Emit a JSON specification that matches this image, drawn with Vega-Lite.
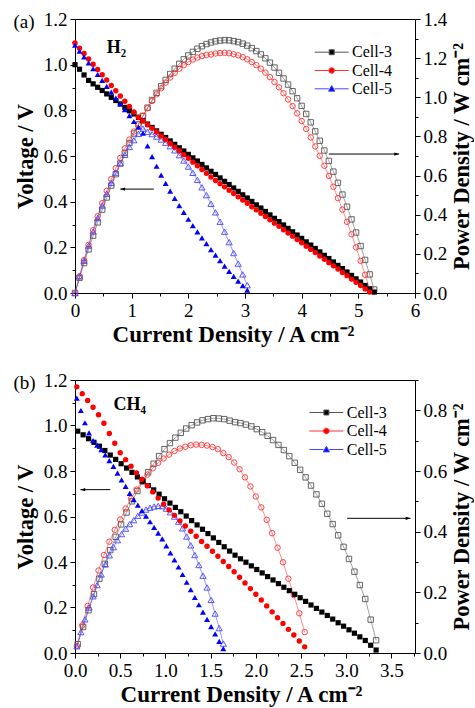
{
"$schema":"https://vega.github.io/schema/vega-lite/v6.json",
"background":"white",
"padding":{"left":12,"top":9,"right":0,"bottom":0},
"spacing":23,
"config":{
"font":"Liberation Serif",
"view":{"stroke":"#000","strokeWidth":1},
"axis":{"domainColor":"#000","tickColor":"#000","labelColor":"#000","titleColor":"#000","labelFont":"Liberation Serif","titleFont":"Liberation Serif","labelFontSize":19,"titleFontSize":22.5,"titleFontWeight":"bold","grid":false,"labelFlush":false,"labelOverlap":false,"tickSize":5,"labelPadding":3,"titlePadding":3,"domainWidth":1,"tickWidth":1}
},
"resolve":{"scale":{"fill":"independent","stroke":"independent","shape":"independent"},"legend":{"fill":"independent","stroke":"independent","shape":"independent"}},
"datasets":{
"a":[
{"c":"Cell-3","i":0,"v":1.0,"w":0},
{"c":"Cell-3","i":0.08,"v":0.98,"w":0.078},
{"c":"Cell-3","i":0.16,"v":0.955,"w":0.153},
{"c":"Cell-3","i":0.24,"v":0.931,"w":0.223},
{"c":"Cell-3","i":0.32,"v":0.916,"w":0.293},
{"c":"Cell-3","i":0.4,"v":0.901,"w":0.361},
{"c":"Cell-3","i":0.48,"v":0.887,"w":0.426},
{"c":"Cell-3","i":0.56,"v":0.872,"w":0.488},
{"c":"Cell-3","i":0.64,"v":0.857,"w":0.549},
{"c":"Cell-3","i":0.72,"v":0.843,"w":0.607},
{"c":"Cell-3","i":0.8,"v":0.828,"w":0.662},
{"c":"Cell-3","i":0.88,"v":0.813,"w":0.716},
{"c":"Cell-3","i":0.96,"v":0.798,"w":0.766},
{"c":"Cell-3","i":1.04,"v":0.784,"w":0.815},
{"c":"Cell-3","i":1.12,"v":0.769,"w":0.861},
{"c":"Cell-3","i":1.2,"v":0.754,"w":0.905},
{"c":"Cell-3","i":1.28,"v":0.74,"w":0.947},
{"c":"Cell-3","i":1.36,"v":0.725,"w":0.986},
{"c":"Cell-3","i":1.44,"v":0.71,"w":1.023},
{"c":"Cell-3","i":1.52,"v":0.695,"w":1.057},
{"c":"Cell-3","i":1.6,"v":0.681,"w":1.089},
{"c":"Cell-3","i":1.68,"v":0.666,"w":1.119},
{"c":"Cell-3","i":1.76,"v":0.651,"w":1.146},
{"c":"Cell-3","i":1.84,"v":0.636,"w":1.171},
{"c":"Cell-3","i":1.92,"v":0.622,"w":1.194},
{"c":"Cell-3","i":2.0,"v":0.607,"w":1.214},
{"c":"Cell-3","i":2.08,"v":0.592,"w":1.232},
{"c":"Cell-3","i":2.16,"v":0.578,"w":1.248},
{"c":"Cell-3","i":2.24,"v":0.563,"w":1.261},
{"c":"Cell-3","i":2.32,"v":0.548,"w":1.272},
{"c":"Cell-3","i":2.4,"v":0.533,"w":1.28},
{"c":"Cell-3","i":2.48,"v":0.519,"w":1.286},
{"c":"Cell-3","i":2.56,"v":0.504,"w":1.29},
{"c":"Cell-3","i":2.64,"v":0.489,"w":1.292},
{"c":"Cell-3","i":2.72,"v":0.475,"w":1.291},
{"c":"Cell-3","i":2.8,"v":0.46,"w":1.287},
{"c":"Cell-3","i":2.88,"v":0.445,"w":1.282},
{"c":"Cell-3","i":2.96,"v":0.43,"w":1.274},
{"c":"Cell-3","i":3.04,"v":0.416,"w":1.264},
{"c":"Cell-3","i":3.12,"v":0.401,"w":1.251},
{"c":"Cell-3","i":3.2,"v":0.386,"w":1.236},
{"c":"Cell-3","i":3.28,"v":0.372,"w":1.219},
{"c":"Cell-3","i":3.36,"v":0.357,"w":1.199},
{"c":"Cell-3","i":3.44,"v":0.342,"w":1.177},
{"c":"Cell-3","i":3.52,"v":0.327,"w":1.152},
{"c":"Cell-3","i":3.6,"v":0.313,"w":1.125},
{"c":"Cell-3","i":3.68,"v":0.298,"w":1.096},
{"c":"Cell-3","i":3.76,"v":0.283,"w":1.065},
{"c":"Cell-3","i":3.84,"v":0.268,"w":1.031},
{"c":"Cell-3","i":3.92,"v":0.254,"w":0.995},
{"c":"Cell-3","i":4.0,"v":0.239,"w":0.956},
{"c":"Cell-3","i":4.08,"v":0.224,"w":0.915},
{"c":"Cell-3","i":4.16,"v":0.21,"w":0.872},
{"c":"Cell-3","i":4.24,"v":0.195,"w":0.826},
{"c":"Cell-3","i":4.32,"v":0.18,"w":0.778},
{"c":"Cell-3","i":4.4,"v":0.165,"w":0.728},
{"c":"Cell-3","i":4.48,"v":0.151,"w":0.675},
{"c":"Cell-3","i":4.56,"v":0.136,"w":0.62},
{"c":"Cell-3","i":4.64,"v":0.121,"w":0.563},
{"c":"Cell-3","i":4.72,"v":0.107,"w":0.503},
{"c":"Cell-3","i":4.8,"v":0.092,"w":0.441},
{"c":"Cell-3","i":4.88,"v":0.077,"w":0.376},
{"c":"Cell-3","i":4.96,"v":0.062,"w":0.309},
{"c":"Cell-3","i":5.04,"v":0.048,"w":0.24},
{"c":"Cell-3","i":5.12,"v":0.033,"w":0.169},
{"c":"Cell-3","i":5.2,"v":0.018,"w":0.095},
{"c":"Cell-3","i":5.28,"v":0.004,"w":0.018},
{"c":"Cell-4","i":0,"v":1.095,"w":0},
{"c":"Cell-4","i":0.08,"v":1.072,"w":0.086},
{"c":"Cell-4","i":0.16,"v":1.049,"w":0.168},
{"c":"Cell-4","i":0.24,"v":1.025,"w":0.246},
{"c":"Cell-4","i":0.32,"v":1.002,"w":0.321},
{"c":"Cell-4","i":0.4,"v":0.979,"w":0.392},
{"c":"Cell-4","i":0.48,"v":0.956,"w":0.459},
{"c":"Cell-4","i":0.56,"v":0.933,"w":0.522},
{"c":"Cell-4","i":0.64,"v":0.909,"w":0.582},
{"c":"Cell-4","i":0.72,"v":0.886,"w":0.638},
{"c":"Cell-4","i":0.8,"v":0.863,"w":0.69},
{"c":"Cell-4","i":0.88,"v":0.84,"w":0.739},
{"c":"Cell-4","i":0.96,"v":0.817,"w":0.784},
{"c":"Cell-4","i":1.04,"v":0.793,"w":0.825},
{"c":"Cell-4","i":1.12,"v":0.77,"w":0.863},
{"c":"Cell-4","i":1.2,"v":0.754,"w":0.905},
{"c":"Cell-4","i":1.28,"v":0.737,"w":0.944},
{"c":"Cell-4","i":1.36,"v":0.721,"w":0.981},
{"c":"Cell-4","i":1.44,"v":0.705,"w":1.015},
{"c":"Cell-4","i":1.52,"v":0.688,"w":1.046},
{"c":"Cell-4","i":1.6,"v":0.672,"w":1.075},
{"c":"Cell-4","i":1.68,"v":0.655,"w":1.101},
{"c":"Cell-4","i":1.76,"v":0.639,"w":1.125},
{"c":"Cell-4","i":1.84,"v":0.623,"w":1.146},
{"c":"Cell-4","i":1.92,"v":0.606,"w":1.164},
{"c":"Cell-4","i":2.0,"v":0.59,"w":1.18},
{"c":"Cell-4","i":2.08,"v":0.573,"w":1.193},
{"c":"Cell-4","i":2.16,"v":0.557,"w":1.203},
{"c":"Cell-4","i":2.24,"v":0.541,"w":1.211},
{"c":"Cell-4","i":2.32,"v":0.524,"w":1.216},
{"c":"Cell-4","i":2.4,"v":0.508,"w":1.219},
{"c":"Cell-4","i":2.48,"v":0.493,"w":1.224},
{"c":"Cell-4","i":2.56,"v":0.479,"w":1.226},
{"c":"Cell-4","i":2.64,"v":0.465,"w":1.227},
{"c":"Cell-4","i":2.72,"v":0.45,"w":1.225},
{"c":"Cell-4","i":2.8,"v":0.436,"w":1.22},
{"c":"Cell-4","i":2.88,"v":0.421,"w":1.214},
{"c":"Cell-4","i":2.96,"v":0.407,"w":1.205},
{"c":"Cell-4","i":3.04,"v":0.393,"w":1.194},
{"c":"Cell-4","i":3.12,"v":0.378,"w":1.18},
{"c":"Cell-4","i":3.2,"v":0.364,"w":1.164},
{"c":"Cell-4","i":3.28,"v":0.349,"w":1.146},
{"c":"Cell-4","i":3.36,"v":0.335,"w":1.126},
{"c":"Cell-4","i":3.44,"v":0.321,"w":1.103},
{"c":"Cell-4","i":3.52,"v":0.306,"w":1.078},
{"c":"Cell-4","i":3.6,"v":0.292,"w":1.051},
{"c":"Cell-4","i":3.68,"v":0.277,"w":1.021},
{"c":"Cell-4","i":3.76,"v":0.263,"w":0.989},
{"c":"Cell-4","i":3.84,"v":0.249,"w":0.955},
{"c":"Cell-4","i":3.92,"v":0.234,"w":0.918},
{"c":"Cell-4","i":4.0,"v":0.22,"w":0.879},
{"c":"Cell-4","i":4.08,"v":0.205,"w":0.838},
{"c":"Cell-4","i":4.16,"v":0.191,"w":0.795},
{"c":"Cell-4","i":4.24,"v":0.177,"w":0.749},
{"c":"Cell-4","i":4.32,"v":0.162,"w":0.701},
{"c":"Cell-4","i":4.4,"v":0.148,"w":0.65},
{"c":"Cell-4","i":4.48,"v":0.133,"w":0.598},
{"c":"Cell-4","i":4.56,"v":0.119,"w":0.543},
{"c":"Cell-4","i":4.64,"v":0.105,"w":0.485},
{"c":"Cell-4","i":4.72,"v":0.09,"w":0.426},
{"c":"Cell-4","i":4.8,"v":0.076,"w":0.364},
{"c":"Cell-4","i":4.88,"v":0.061,"w":0.3},
{"c":"Cell-4","i":4.96,"v":0.047,"w":0.233},
{"c":"Cell-4","i":5.04,"v":0.033,"w":0.164},
{"c":"Cell-4","i":5.12,"v":0.018,"w":0.093},
{"c":"Cell-4","i":5.2,"v":0.004,"w":0.02},
{"c":"Cell-5","i":0,"v":1.085,"w":0},
{"c":"Cell-5","i":0.08,"v":1.059,"w":0.085},
{"c":"Cell-5","i":0.16,"v":1.034,"w":0.165},
{"c":"Cell-5","i":0.24,"v":1.008,"w":0.242},
{"c":"Cell-5","i":0.32,"v":0.982,"w":0.314},
{"c":"Cell-5","i":0.4,"v":0.957,"w":0.383},
{"c":"Cell-5","i":0.48,"v":0.931,"w":0.447},
{"c":"Cell-5","i":0.56,"v":0.905,"w":0.507},
{"c":"Cell-5","i":0.64,"v":0.88,"w":0.563},
{"c":"Cell-5","i":0.72,"v":0.854,"w":0.615},
{"c":"Cell-5","i":0.8,"v":0.828,"w":0.663},
{"c":"Cell-5","i":0.88,"v":0.803,"w":0.706},
{"c":"Cell-5","i":0.96,"v":0.777,"w":0.746},
{"c":"Cell-5","i":1.04,"v":0.751,"w":0.781},
{"c":"Cell-5","i":1.12,"v":0.726,"w":0.813},
{"c":"Cell-5","i":1.2,"v":0.7,"w":0.84},
{"c":"Cell-5","i":1.28,"v":0.644,"w":0.824},
{"c":"Cell-5","i":1.36,"v":0.597,"w":0.812},
{"c":"Cell-5","i":1.44,"v":0.555,"w":0.799},
{"c":"Cell-5","i":1.52,"v":0.516,"w":0.784},
{"c":"Cell-5","i":1.6,"v":0.48,"w":0.768},
{"c":"Cell-5","i":1.68,"v":0.446,"w":0.75},
{"c":"Cell-5","i":1.76,"v":0.414,"w":0.729},
{"c":"Cell-5","i":1.84,"v":0.383,"w":0.704},
{"c":"Cell-5","i":1.92,"v":0.353,"w":0.677},
{"c":"Cell-5","i":2.0,"v":0.323,"w":0.646},
{"c":"Cell-5","i":2.08,"v":0.295,"w":0.614},
{"c":"Cell-5","i":2.16,"v":0.268,"w":0.578},
{"c":"Cell-5","i":2.24,"v":0.241,"w":0.54},
{"c":"Cell-5","i":2.32,"v":0.216,"w":0.5},
{"c":"Cell-5","i":2.4,"v":0.19,"w":0.456},
{"c":"Cell-5","i":2.48,"v":0.166,"w":0.412},
{"c":"Cell-5","i":2.56,"v":0.142,"w":0.364},
{"c":"Cell-5","i":2.64,"v":0.118,"w":0.313},
{"c":"Cell-5","i":2.72,"v":0.095,"w":0.26},
{"c":"Cell-5","i":2.8,"v":0.073,"w":0.204},
{"c":"Cell-5","i":2.88,"v":0.052,"w":0.15},
{"c":"Cell-5","i":2.96,"v":0.032,"w":0.095},
{"c":"Cell-5","i":3.04,"v":0.013,"w":0.04}
],
"b":[
{"c":"Cell-3","i":0.03,"v":0.975,"w":0.029},
{"c":"Cell-3","i":0.09,"v":0.959,"w":0.086},
{"c":"Cell-3","i":0.15,"v":0.942,"w":0.141},
{"c":"Cell-3","i":0.21,"v":0.926,"w":0.194},
{"c":"Cell-3","i":0.27,"v":0.909,"w":0.245},
{"c":"Cell-3","i":0.33,"v":0.89,"w":0.294},
{"c":"Cell-3","i":0.39,"v":0.87,"w":0.339},
{"c":"Cell-3","i":0.45,"v":0.851,"w":0.383},
{"c":"Cell-3","i":0.51,"v":0.832,"w":0.424},
{"c":"Cell-3","i":0.57,"v":0.813,"w":0.463},
{"c":"Cell-3","i":0.63,"v":0.794,"w":0.5},
{"c":"Cell-3","i":0.69,"v":0.774,"w":0.534},
{"c":"Cell-3","i":0.75,"v":0.755,"w":0.566},
{"c":"Cell-3","i":0.81,"v":0.736,"w":0.596},
{"c":"Cell-3","i":0.87,"v":0.717,"w":0.624},
{"c":"Cell-3","i":0.93,"v":0.698,"w":0.649},
{"c":"Cell-3","i":0.99,"v":0.678,"w":0.672},
{"c":"Cell-3","i":1.05,"v":0.659,"w":0.692},
{"c":"Cell-3","i":1.11,"v":0.64,"w":0.71},
{"c":"Cell-3","i":1.17,"v":0.621,"w":0.726},
{"c":"Cell-3","i":1.23,"v":0.602,"w":0.74},
{"c":"Cell-3","i":1.29,"v":0.582,"w":0.751},
{"c":"Cell-3","i":1.35,"v":0.563,"w":0.76},
{"c":"Cell-3","i":1.41,"v":0.544,"w":0.767},
{"c":"Cell-3","i":1.47,"v":0.525,"w":0.771},
{"c":"Cell-3","i":1.53,"v":0.506,"w":0.774},
{"c":"Cell-3","i":1.59,"v":0.486,"w":0.773},
{"c":"Cell-3","i":1.65,"v":0.467,"w":0.771},
{"c":"Cell-3","i":1.71,"v":0.448,"w":0.766},
{"c":"Cell-3","i":1.77,"v":0.43,"w":0.761},
{"c":"Cell-3","i":1.83,"v":0.414,"w":0.758},
{"c":"Cell-3","i":1.89,"v":0.399,"w":0.753},
{"c":"Cell-3","i":1.95,"v":0.383,"w":0.747},
{"c":"Cell-3","i":2.01,"v":0.367,"w":0.738},
{"c":"Cell-3","i":2.07,"v":0.352,"w":0.728},
{"c":"Cell-3","i":2.13,"v":0.336,"w":0.716},
{"c":"Cell-3","i":2.19,"v":0.321,"w":0.702},
{"c":"Cell-3","i":2.25,"v":0.305,"w":0.686},
{"c":"Cell-3","i":2.31,"v":0.289,"w":0.669},
{"c":"Cell-3","i":2.37,"v":0.274,"w":0.649},
{"c":"Cell-3","i":2.43,"v":0.258,"w":0.627},
{"c":"Cell-3","i":2.49,"v":0.243,"w":0.604},
{"c":"Cell-3","i":2.55,"v":0.227,"w":0.579},
{"c":"Cell-3","i":2.61,"v":0.211,"w":0.552},
{"c":"Cell-3","i":2.67,"v":0.196,"w":0.523},
{"c":"Cell-3","i":2.73,"v":0.18,"w":0.492},
{"c":"Cell-3","i":2.79,"v":0.165,"w":0.459},
{"c":"Cell-3","i":2.85,"v":0.149,"w":0.425},
{"c":"Cell-3","i":2.91,"v":0.133,"w":0.388},
{"c":"Cell-3","i":2.97,"v":0.118,"w":0.35},
{"c":"Cell-3","i":3.03,"v":0.102,"w":0.31},
{"c":"Cell-3","i":3.09,"v":0.087,"w":0.268},
{"c":"Cell-3","i":3.15,"v":0.071,"w":0.224},
{"c":"Cell-3","i":3.21,"v":0.055,"w":0.178},
{"c":"Cell-3","i":3.27,"v":0.034,"w":0.11},
{"c":"Cell-3","i":3.33,"v":0.013,"w":0.042},
{"c":"Cell-4","i":0.02,"v":1.17,"w":0.023},
{"c":"Cell-4","i":0.08,"v":1.14,"w":0.091},
{"c":"Cell-4","i":0.14,"v":1.11,"w":0.155},
{"c":"Cell-4","i":0.2,"v":1.08,"w":0.216},
{"c":"Cell-4","i":0.26,"v":1.047,"w":0.272},
{"c":"Cell-4","i":0.32,"v":1.01,"w":0.323},
{"c":"Cell-4","i":0.38,"v":0.965,"w":0.367},
{"c":"Cell-4","i":0.44,"v":0.922,"w":0.406},
{"c":"Cell-4","i":0.5,"v":0.88,"w":0.44},
{"c":"Cell-4","i":0.56,"v":0.85,"w":0.476},
{"c":"Cell-4","i":0.62,"v":0.821,"w":0.509},
{"c":"Cell-4","i":0.68,"v":0.792,"w":0.539},
{"c":"Cell-4","i":0.74,"v":0.764,"w":0.565},
{"c":"Cell-4","i":0.8,"v":0.735,"w":0.588},
{"c":"Cell-4","i":0.86,"v":0.708,"w":0.609},
{"c":"Cell-4","i":0.92,"v":0.681,"w":0.627},
{"c":"Cell-4","i":0.98,"v":0.654,"w":0.641},
{"c":"Cell-4","i":1.04,"v":0.629,"w":0.654},
{"c":"Cell-4","i":1.1,"v":0.605,"w":0.666},
{"c":"Cell-4","i":1.16,"v":0.581,"w":0.674},
{"c":"Cell-4","i":1.22,"v":0.558,"w":0.68},
{"c":"Cell-4","i":1.28,"v":0.535,"w":0.685},
{"c":"Cell-4","i":1.34,"v":0.513,"w":0.687},
{"c":"Cell-4","i":1.4,"v":0.49,"w":0.686},
{"c":"Cell-4","i":1.46,"v":0.469,"w":0.684},
{"c":"Cell-4","i":1.52,"v":0.447,"w":0.679},
{"c":"Cell-4","i":1.58,"v":0.425,"w":0.672},
{"c":"Cell-4","i":1.64,"v":0.402,"w":0.659},
{"c":"Cell-4","i":1.7,"v":0.38,"w":0.646},
{"c":"Cell-4","i":1.76,"v":0.357,"w":0.628},
{"c":"Cell-4","i":1.82,"v":0.333,"w":0.606},
{"c":"Cell-4","i":1.88,"v":0.308,"w":0.579},
{"c":"Cell-4","i":1.94,"v":0.283,"w":0.549},
{"c":"Cell-4","i":2.0,"v":0.258,"w":0.516},
{"c":"Cell-4","i":2.06,"v":0.233,"w":0.48},
{"c":"Cell-4","i":2.12,"v":0.207,"w":0.439},
{"c":"Cell-4","i":2.18,"v":0.181,"w":0.395},
{"c":"Cell-4","i":2.24,"v":0.155,"w":0.347},
{"c":"Cell-4","i":2.3,"v":0.13,"w":0.299},
{"c":"Cell-4","i":2.36,"v":0.104,"w":0.245},
{"c":"Cell-4","i":2.42,"v":0.079,"w":0.191},
{"c":"Cell-4","i":2.48,"v":0.053,"w":0.131},
{"c":"Cell-4","i":2.54,"v":0.027,"w":0.069},
{"c":"Cell-5","i":0.02,"v":1.12,"w":0.022},
{"c":"Cell-5","i":0.065,"v":1.066,"w":0.069},
{"c":"Cell-5","i":0.11,"v":1.012,"w":0.111},
{"c":"Cell-5","i":0.155,"v":0.968,"w":0.15},
{"c":"Cell-5","i":0.2,"v":0.934,"w":0.187},
{"c":"Cell-5","i":0.245,"v":0.914,"w":0.224},
{"c":"Cell-5","i":0.29,"v":0.894,"w":0.259},
{"c":"Cell-5","i":0.335,"v":0.871,"w":0.292},
{"c":"Cell-5","i":0.38,"v":0.846,"w":0.322},
{"c":"Cell-5","i":0.425,"v":0.82,"w":0.349},
{"c":"Cell-5","i":0.47,"v":0.791,"w":0.372},
{"c":"Cell-5","i":0.515,"v":0.761,"w":0.392},
{"c":"Cell-5","i":0.56,"v":0.732,"w":0.41},
{"c":"Cell-5","i":0.605,"v":0.702,"w":0.425},
{"c":"Cell-5","i":0.65,"v":0.674,"w":0.438},
{"c":"Cell-5","i":0.695,"v":0.65,"w":0.452},
{"c":"Cell-5","i":0.74,"v":0.626,"w":0.463},
{"c":"Cell-5","i":0.785,"v":0.602,"w":0.473},
{"c":"Cell-5","i":0.83,"v":0.577,"w":0.479},
{"c":"Cell-5","i":0.875,"v":0.552,"w":0.483},
{"c":"Cell-5","i":0.92,"v":0.527,"w":0.485},
{"c":"Cell-5","i":0.965,"v":0.502,"w":0.484},
{"c":"Cell-5","i":1.01,"v":0.471,"w":0.476},
{"c":"Cell-5","i":1.055,"v":0.44,"w":0.464},
{"c":"Cell-5","i":1.1,"v":0.409,"w":0.45},
{"c":"Cell-5","i":1.145,"v":0.378,"w":0.433},
{"c":"Cell-5","i":1.19,"v":0.345,"w":0.411},
{"c":"Cell-5","i":1.235,"v":0.311,"w":0.384},
{"c":"Cell-5","i":1.28,"v":0.278,"w":0.355},
{"c":"Cell-5","i":1.325,"v":0.244,"w":0.323},
{"c":"Cell-5","i":1.37,"v":0.212,"w":0.29},
{"c":"Cell-5","i":1.415,"v":0.18,"w":0.255},
{"c":"Cell-5","i":1.46,"v":0.148,"w":0.216},
{"c":"Cell-5","i":1.505,"v":0.116,"w":0.175},
{"c":"Cell-5","i":1.55,"v":0.084,"w":0.13},
{"c":"Cell-5","i":1.595,"v":0.051,"w":0.082},
{"c":"Cell-5","i":1.64,"v":0.019,"w":0.031}
]
},
"vconcat":[
{
"width":340,"height":274,
"title":{"text":"(a)","anchor":"start","frame":"group","orient":"top","offset":-31,"dx":-61.6,"dy":0,"fontSize":19,"fontWeight":"normal","font":"Liberation Serif","color":"#000","baseline":"middle"},
"data":{"name":"a"},
"resolve":{"scale":{"x":"independent","y":"independent"}},
"layer":[
{"data":{"values":[]},
 "mark":{"type":"point","filled":true,"opacity":1,"strokeWidth":1},
 "encoding":{
  "shape":{"field":"c","type":"nominal","scale":{"domain":["Cell-3","Cell-4","Cell-5"],"range":["M-3,0H-0.44M0.44,0H3M-0.44,-0.44H0.44V0.44H-0.44Z","M-3,0H-0.5M0.5,0H3M0.5,0A0.5,0.5,0,1,1,-0.5,0A0.5,0.5,0,1,1,0.5,0Z","M-3,0H-0.5M0.5,0H3M0,-0.58L0.55,0.42L-0.55,0.42Z"]},"legend":{"orient":"none","legendX":239.7,"legendY":25.2,"title":null,"padding":0,"symbolOffset":9,"labelOffset":12.4,"rowPadding":2.3,"labelFont":"Liberation Serif","labelFontSize":16,"labelColor":"#000","symbolSize":128,"symbolStrokeWidth":1,"symbolOpacity":1,"labelLimit":0}},
  "fill":{"field":"c","type":"nominal","scale":{"domain":["Cell-3","Cell-4","Cell-5"],"range":["#000000","#ff0000","#0000ff"]}},
  "stroke":{"field":"c","type":"nominal","scale":{"domain":["Cell-3","Cell-4","Cell-5"],"range":["#555555","#ff3030","#4646ff"]}}}},
{"mark":{"type":"line","strokeWidth":0.8,"opacity":0.7},
 "encoding":{
  "x":{"field":"i","type":"quantitative","scale":{"domain":[0,6],"nice":false,"zero":false},"axis":null},
  "y":{"field":"w","type":"quantitative","scale":{"domain":[0,1.4],"nice":false},"axis":null},
  "stroke":{"field":"c","type":"nominal","scale":{"domain":["Cell-3","Cell-4","Cell-5"],"range":["#555555","#ff3030","#4646ff"]}}}},
{"transform":[{"filter":{"field":"c","equal":"Cell-3"}}],
 "mark":{"type":"point","shape":"square","filled":false,"size":29,"strokeWidth":0.9,"opacity":1},
 "encoding":{
  "x":{"field":"i","type":"quantitative","scale":{"domain":[0,6],"nice":false,"zero":false},"axis":null},
  "y":{"field":"w","type":"quantitative","scale":{"domain":[0,1.4],"nice":false},"axis":{"orient":"right","values":[0,0.2,0.4,0.6,0.8,1.0,1.2,1.4],"format":".1f","title":"Power Density / W cm⁻²","titleAngle":-90,"titleBaseline":"top","titlePadding":4}},
  "stroke":{"field":"c","type":"nominal","scale":{"domain":["Cell-3","Cell-4","Cell-5"],"range":["#555555","#ff3030","#4646ff"]}}}},
{"transform":[{"filter":{"field":"c","equal":"Cell-4"}}],
 "mark":{"type":"point","shape":"circle","filled":false,"size":30,"strokeWidth":0.9,"opacity":1},
 "encoding":{
  "x":{"field":"i","type":"quantitative","scale":{"domain":[0,6],"nice":false,"zero":false},"axis":null},
  "y":{"field":"w","type":"quantitative","scale":{"domain":[0,1.4],"nice":false},"axis":{"orient":"right","values":[0.1,0.3,0.5,0.7,0.9,1.1,1.3],"labels":false,"domain":false,"tickSize":3,"title":null}},
  "stroke":{"field":"c","type":"nominal","scale":{"domain":["Cell-3","Cell-4","Cell-5"],"range":["#555555","#ff3030","#4646ff"]}}}},
{"transform":[{"filter":{"field":"c","equal":"Cell-5"}}],
 "mark":{"type":"point","shape":"triangle-up","filled":false,"size":38,"strokeWidth":0.9,"opacity":1},
 "encoding":{
  "x":{"field":"i","type":"quantitative","scale":{"domain":[0,6],"nice":false,"zero":false},"axis":null},
  "y":{"field":"w","type":"quantitative","scale":{"domain":[0,1.4],"nice":false},"axis":null},
  "stroke":{"field":"c","type":"nominal","scale":{"domain":["Cell-3","Cell-4","Cell-5"],"range":["#555555","#ff3030","#4646ff"]}}}},
{"transform":[{"filter":{"field":"c","equal":"Cell-3"}}],
 "mark":{"type":"point","shape":"square","filled":true,"size":27,"strokeWidth":0,"opacity":1},
 "encoding":{
  "x":{"field":"i","type":"quantitative","scale":{"domain":[0,6],"nice":false,"zero":false},"axis":{"orient":"bottom","values":[0,1,2,3,4,5,6],"format":"d","title":"Current Density / A cm⁻²","titleFontSize":23,"titleX":158,"titlePadding":3}},
  "y":{"field":"v","type":"quantitative","scale":{"domain":[0,1.2],"nice":false},"axis":{"orient":"left","values":[0,0.2,0.4,0.6,0.8,1.0,1.2],"format":".1f","title":"Voltage / V","titlePadding":6}},
  "fill":{"field":"c","type":"nominal","scale":{"domain":["Cell-3","Cell-4","Cell-5"],"range":["#000000","#ff0000","#0000ff"]}}}},
{"transform":[{"filter":{"field":"c","equal":"Cell-4"}}],
 "mark":{"type":"point","shape":"circle","filled":true,"size":29,"strokeWidth":0,"opacity":1},
 "encoding":{
  "x":{"field":"i","type":"quantitative","scale":{"domain":[0,6],"nice":false,"zero":false},"axis":{"orient":"bottom","values":[0.5,1.5,2.5,3.5,4.5,5.5],"labels":false,"domain":false,"tickSize":3,"title":null}},
  "y":{"field":"v","type":"quantitative","scale":{"domain":[0,1.2],"nice":false},"axis":{"orient":"left","values":[0.1,0.3,0.5,0.7,0.9,1.1],"labels":false,"domain":false,"tickSize":3,"title":null}},
  "fill":{"field":"c","type":"nominal","scale":{"domain":["Cell-3","Cell-4","Cell-5"],"range":["#000000","#ff0000","#0000ff"]}}}},
{"transform":[{"filter":{"field":"c","equal":"Cell-5"}}],
 "mark":{"type":"point","shape":"triangle-up","filled":true,"size":36,"strokeWidth":0,"opacity":1},
 "encoding":{
  "x":{"field":"i","type":"quantitative","scale":{"domain":[0,6],"nice":false,"zero":false},"axis":null},
  "y":{"field":"v","type":"quantitative","scale":{"domain":[0,1.2],"nice":false},"axis":null},
  "fill":{"field":"c","type":"nominal","scale":{"domain":["Cell-3","Cell-4","Cell-5"],"range":["#000000","#ff0000","#0000ff"]}}}},
{"data":{"values":[{}]},
 "mark":{"type":"text","text":"H₂","font":"Liberation Serif","fontSize":18,"fontWeight":"bold","align":"left","baseline":"alphabetic","color":"#000"},
 "encoding":{
  "x":{"datum":0.56,"type":"quantitative","scale":{"domain":[0,6],"nice":false,"zero":false},"axis":null},
  "y":{"datum":1.051,"type":"quantitative","scale":{"domain":[0,1.2],"nice":false},"axis":null}}},
{"data":{"values":[{}]},
 "mark":{"type":"rule","color":"#000","strokeWidth":1},
 "encoding":{
  "x":{"datum":0.8,"type":"quantitative","scale":{"domain":[0,6],"nice":false,"zero":false},"axis":null},
  "x2":{"datum":1.39},
  "y":{"datum":0.455,"type":"quantitative","scale":{"domain":[0,1.2],"nice":false},"axis":null}}},
{"data":{"values":[{}]},
 "mark":{"type":"point","shape":"M0,0L2.4,-0.8L2.4,0.8Z","filled":true,"color":"#000","size":16,"opacity":1},
 "encoding":{
  "x":{"datum":0.8,"type":"quantitative","scale":{"domain":[0,6],"nice":false,"zero":false},"axis":null},
  "y":{"datum":0.455,"type":"quantitative","scale":{"domain":[0,1.2],"nice":false},"axis":null}}},
{"data":{"values":[{}]},
 "mark":{"type":"rule","color":"#000","strokeWidth":1},
 "encoding":{
  "x":{"datum":4.48,"type":"quantitative","scale":{"domain":[0,6],"nice":false,"zero":false},"axis":null},
  "x2":{"datum":5.72},
  "y":{"datum":0.71,"type":"quantitative","scale":{"domain":[0,1.4],"nice":false},"axis":null}}},
{"data":{"values":[{}]},
 "mark":{"type":"point","shape":"M0,0L-2.4,-0.8L-2.4,0.8Z","filled":true,"color":"#000","size":16,"opacity":1},
 "encoding":{
  "x":{"datum":5.72,"type":"quantitative","scale":{"domain":[0,6],"nice":false,"zero":false},"axis":null},
  "y":{"datum":0.71,"type":"quantitative","scale":{"domain":[0,1.4],"nice":false},"axis":null}}}
]
},
{
"width":340,"height":273,
"title":{"text":"(b)","anchor":"start","frame":"group","orient":"top","offset":-31,"dx":-61.6,"dy":0,"fontSize":19,"fontWeight":"normal","font":"Liberation Serif","color":"#000","baseline":"middle"},
"data":{"name":"b"},
"resolve":{"scale":{"x":"independent","y":"independent"}},
"layer":[
{"data":{"values":[]},
 "mark":{"type":"point","filled":true,"opacity":1,"strokeWidth":1},
 "encoding":{
  "shape":{"field":"c","type":"nominal","scale":{"domain":["Cell-3","Cell-4","Cell-5"],"range":["M-3,0H-0.44M0.44,0H3M-0.44,-0.44H0.44V0.44H-0.44Z","M-3,0H-0.5M0.5,0H3M0.5,0A0.5,0.5,0,1,1,-0.5,0A0.5,0.5,0,1,1,0.5,0Z","M-3,0H-0.5M0.5,0H3M0,-0.58L0.55,0.42L-0.55,0.42Z"]},"legend":{"orient":"none","legendX":234.4,"legendY":24.5,"title":null,"padding":0,"symbolOffset":9,"labelOffset":12.4,"rowPadding":2.5,"labelFont":"Liberation Serif","labelFontSize":16,"labelColor":"#000","symbolSize":128,"symbolStrokeWidth":1,"symbolOpacity":1,"labelLimit":0}},
  "fill":{"field":"c","type":"nominal","scale":{"domain":["Cell-3","Cell-4","Cell-5"],"range":["#000000","#ff0000","#0000ff"]}},
  "stroke":{"field":"c","type":"nominal","scale":{"domain":["Cell-3","Cell-4","Cell-5"],"range":["#555555","#ff3030","#4646ff"]}}}},
{"mark":{"type":"line","strokeWidth":0.8,"opacity":0.7},
 "encoding":{
  "x":{"field":"i","type":"quantitative","scale":{"domain":[0,3.76],"nice":false,"zero":false},"axis":null},
  "y":{"field":"w","type":"quantitative","scale":{"domain":[0,0.9],"nice":false},"axis":null},
  "stroke":{"field":"c","type":"nominal","scale":{"domain":["Cell-3","Cell-4","Cell-5"],"range":["#555555","#ff3030","#4646ff"]}}}},
{"transform":[{"filter":{"field":"c","equal":"Cell-3"}}],
 "mark":{"type":"point","shape":"square","filled":false,"size":29,"strokeWidth":0.9,"opacity":1},
 "encoding":{
  "x":{"field":"i","type":"quantitative","scale":{"domain":[0,3.76],"nice":false,"zero":false},"axis":null},
  "y":{"field":"w","type":"quantitative","scale":{"domain":[0,0.9],"nice":false},"axis":{"orient":"right","values":[0,0.2,0.4,0.6,0.8],"format":".1f","title":"Power Density / W cm⁻²","titleAngle":-90,"titleBaseline":"top","titlePadding":4}},
  "stroke":{"field":"c","type":"nominal","scale":{"domain":["Cell-3","Cell-4","Cell-5"],"range":["#555555","#ff3030","#4646ff"]}}}},
{"transform":[{"filter":{"field":"c","equal":"Cell-4"}}],
 "mark":{"type":"point","shape":"circle","filled":false,"size":30,"strokeWidth":0.9,"opacity":1},
 "encoding":{
  "x":{"field":"i","type":"quantitative","scale":{"domain":[0,3.76],"nice":false,"zero":false},"axis":null},
  "y":{"field":"w","type":"quantitative","scale":{"domain":[0,0.9],"nice":false},"axis":{"orient":"right","values":[0.1,0.3,0.5,0.7,0.9],"labels":false,"domain":false,"tickSize":3,"title":null}},
  "stroke":{"field":"c","type":"nominal","scale":{"domain":["Cell-3","Cell-4","Cell-5"],"range":["#555555","#ff3030","#4646ff"]}}}},
{"transform":[{"filter":{"field":"c","equal":"Cell-5"}}],
 "mark":{"type":"point","shape":"triangle-up","filled":false,"size":38,"strokeWidth":0.9,"opacity":1},
 "encoding":{
  "x":{"field":"i","type":"quantitative","scale":{"domain":[0,3.76],"nice":false,"zero":false},"axis":null},
  "y":{"field":"w","type":"quantitative","scale":{"domain":[0,0.9],"nice":false},"axis":null},
  "stroke":{"field":"c","type":"nominal","scale":{"domain":["Cell-3","Cell-4","Cell-5"],"range":["#555555","#ff3030","#4646ff"]}}}},
{"transform":[{"filter":{"field":"c","equal":"Cell-3"}}],
 "mark":{"type":"point","shape":"square","filled":true,"size":27,"strokeWidth":0,"opacity":1},
 "encoding":{
  "x":{"field":"i","type":"quantitative","scale":{"domain":[0,3.76],"nice":false,"zero":false},"axis":{"orient":"bottom","values":[0,0.5,1,1.5,2,2.5,3,3.5],"format":".1f","title":"Current Density / A cm⁻²","titleFontSize":23,"titleX":166,"titlePadding":3}},
  "y":{"field":"v","type":"quantitative","scale":{"domain":[0,1.2],"nice":false},"axis":{"orient":"left","values":[0,0.2,0.4,0.6,0.8,1.0,1.2],"format":".1f","title":"Voltage / V","titlePadding":6}},
  "fill":{"field":"c","type":"nominal","scale":{"domain":["Cell-3","Cell-4","Cell-5"],"range":["#000000","#ff0000","#0000ff"]}}}},
{"transform":[{"filter":{"field":"c","equal":"Cell-4"}}],
 "mark":{"type":"point","shape":"circle","filled":true,"size":29,"strokeWidth":0,"opacity":1},
 "encoding":{
  "x":{"field":"i","type":"quantitative","scale":{"domain":[0,3.76],"nice":false,"zero":false},"axis":{"orient":"bottom","values":[0.25,0.75,1.25,1.75,2.25,2.75,3.25,3.75],"labels":false,"domain":false,"tickSize":3,"title":null}},
  "y":{"field":"v","type":"quantitative","scale":{"domain":[0,1.2],"nice":false},"axis":{"orient":"left","values":[0.1,0.3,0.5,0.7,0.9,1.1],"labels":false,"domain":false,"tickSize":3,"title":null}},
  "fill":{"field":"c","type":"nominal","scale":{"domain":["Cell-3","Cell-4","Cell-5"],"range":["#000000","#ff0000","#0000ff"]}}}},
{"transform":[{"filter":{"field":"c","equal":"Cell-5"}}],
 "mark":{"type":"point","shape":"triangle-up","filled":true,"size":36,"strokeWidth":0,"opacity":1},
 "encoding":{
  "x":{"field":"i","type":"quantitative","scale":{"domain":[0,3.76],"nice":false,"zero":false},"axis":null},
  "y":{"field":"v","type":"quantitative","scale":{"domain":[0,1.2],"nice":false},"axis":null},
  "fill":{"field":"c","type":"nominal","scale":{"domain":["Cell-3","Cell-4","Cell-5"],"range":["#000000","#ff0000","#0000ff"]}}}},
{"data":{"values":[{}]},
 "mark":{"type":"text","text":"CH₄","font":"Liberation Serif","fontSize":18,"fontWeight":"bold","align":"left","baseline":"alphabetic","color":"#000"},
 "encoding":{
  "x":{"datum":0.426,"type":"quantitative","scale":{"domain":[0,3.76],"nice":false,"zero":false},"axis":null},
  "y":{"datum":1.069,"type":"quantitative","scale":{"domain":[0,1.2],"nice":false},"axis":null}}},
{"data":{"values":[{}]},
 "mark":{"type":"rule","color":"#000","strokeWidth":1},
 "encoding":{
  "x":{"datum":0.06,"type":"quantitative","scale":{"domain":[0,3.76],"nice":false,"zero":false},"axis":null},
  "x2":{"datum":0.39},
  "y":{"datum":0.718,"type":"quantitative","scale":{"domain":[0,1.2],"nice":false},"axis":null}}},
{"data":{"values":[{}]},
 "mark":{"type":"point","shape":"M0,0L2.4,-0.8L2.4,0.8Z","filled":true,"color":"#000","size":16,"opacity":1},
 "encoding":{
  "x":{"datum":0.06,"type":"quantitative","scale":{"domain":[0,3.76],"nice":false,"zero":false},"axis":null},
  "y":{"datum":0.718,"type":"quantitative","scale":{"domain":[0,1.2],"nice":false},"axis":null}}},
{"data":{"values":[{}]},
 "mark":{"type":"rule","color":"#000","strokeWidth":1},
 "encoding":{
  "x":{"datum":3.01,"type":"quantitative","scale":{"domain":[0,3.76],"nice":false,"zero":false},"axis":null},
  "x2":{"datum":3.71},
  "y":{"datum":0.444,"type":"quantitative","scale":{"domain":[0,0.9],"nice":false},"axis":null}}},
{"data":{"values":[{}]},
 "mark":{"type":"point","shape":"M0,0L-2.4,-0.8L-2.4,0.8Z","filled":true,"color":"#000","size":16,"opacity":1},
 "encoding":{
  "x":{"datum":3.71,"type":"quantitative","scale":{"domain":[0,3.76],"nice":false,"zero":false},"axis":null},
  "y":{"datum":0.444,"type":"quantitative","scale":{"domain":[0,0.9],"nice":false},"axis":null}}}
]
}
]
}
